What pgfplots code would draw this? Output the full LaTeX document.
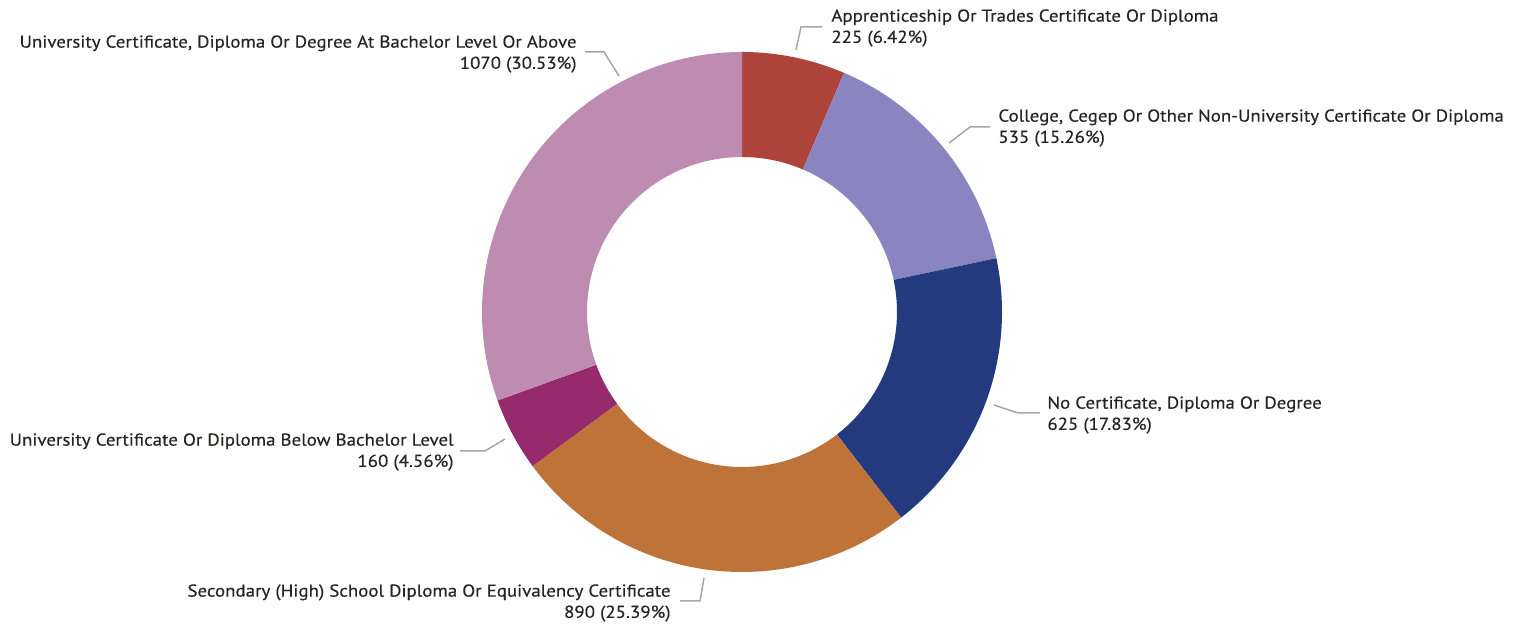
\documentclass[border=0pt]{standalone}
\usepackage{pgfplots}
\pgfplotsset{compat=1.18}
\usepackage{pgfplotstable}
\usepackage{fontspec}
\setmainfont[FakeStretch=1.1, FakeBold=0.3]{PT Sans}
\definecolor{sc0}{HTML}{AD433B}
\definecolor{sc1}{HTML}{8A85C0}
\definecolor{sc2}{HTML}{233A7E}
\definecolor{sc3}{HTML}{BE7338}
\definecolor{sc4}{HTML}{972A6D}
\definecolor{sc5}{HTML}{BF8CB1}
\definecolor{txt}{HTML}{252423}
\definecolor{lead}{HTML}{A6A6A6}
\pgfplotstableread{
value
225
535
625
890
160
1070
}\donutdata
\begin{document}
\begin{tikzpicture}
\gdef\total{0}
\foreach \i in {0,...,5}{%
  \pgfplotstablegetelem{\i}{value}\of\donutdata
  \pgfmathsetmacro\t{\total+\pgfplotsretval}\xdef\total{\t}}
\gdef\cum{0}
\foreach \i in {0,...,5}{%
  \pgfplotstablegetelem{\i}{value}\of\donutdata
  \pgfmathsetmacro\s{90-360*(\cum/\total)}%
  \pgfmathsetmacro\c{\cum+\pgfplotsretval}\xdef\cum{\c}%
  \pgfmathsetmacro\e{90-360*(\cum/\total)}%
  \expandafter\xdef\csname sA\i\endcsname{\s}%
  \expandafter\xdef\csname eA\i\endcsname{\e}}
\begin{axis}[hide axis, scale only axis, width=761pt, height=312.5pt,
  xmin=0, xmax=1522, ymin=0, ymax=625, clip=false, anchor=south west, at={(0,0)}]
\pgfplotsinvokeforeach{0,...,5}{%
  \fill[sc#1] (axis cs:742,313) ++(\csname sA#1\endcsname:130pt)
    arc[start angle=\csname sA#1\endcsname, end angle=\csname eA#1\endcsname, radius=130pt]
    -- ++(\csname eA#1\endcsname:-52.5pt)
    arc[start angle=\csname eA#1\endcsname, end angle=\csname sA#1\endcsname, radius=77.5pt]
    -- cycle;
}
\tikzset{lbl/.style={font=\fontsize{8.6}{10.6}\selectfont, text=txt, inner sep=0pt}}
\draw[lead, line width=0.75pt] (axis cs:796,575) -- (axis cs:801,598) -- (axis cs:822,598);
\node[lbl, anchor=west, align=left] at (axis cs:831,597) {Apprenticeship Or Trades Certificate Or Diploma\\225 (6.42\%)};
\draw[lead, line width=0.75pt] (axis cs:949,482) -- (axis cs:970,498) -- (axis cs:990,498);
\node[lbl, anchor=west, align=left] at (axis cs:998,497) {College, Cegep Or Other Non-University Certificate Or Diploma\\535 (15.26\%)};
\draw[lead, line width=0.75pt] (axis cs:994,220) -- (axis cs:1018,212) -- (axis cs:1040,212);
\node[lbl, anchor=west, align=left] at (axis cs:1047,210) {No Certificate, Diploma Or Degree\\625 (17.83\%)};
\draw[lead, line width=0.75pt] (axis cs:704,47) -- (axis cs:700,24) -- (axis cs:680,24);
\node[lbl, anchor=east, align=right] at (axis cs:671,22) {Secondary (High) School Diploma Or Equivalency Certificate\\890 (25.39\%)};
\draw[lead, line width=0.75pt] (axis cs:505,186) -- (axis cs:485,174) -- (axis cs:460,174);
\node[lbl, anchor=east, align=right] at (axis cs:454,173) {University Certificate Or Diploma Below Bachelor Level\\160 (4.56\%)};
\draw[lead, line width=0.75pt] (axis cs:619,549) -- (axis cs:604,573) -- (axis cs:585,573);
\node[lbl, anchor=east, align=right] at (axis cs:577,571) {University Certificate, Diploma Or Degree At Bachelor Level Or Above\\1070 (30.53\%)};
\end{axis}
\pgfresetboundingbox
\useasboundingbox (0,0) rectangle (761pt,312.5pt);
\end{tikzpicture}
\end{document}
